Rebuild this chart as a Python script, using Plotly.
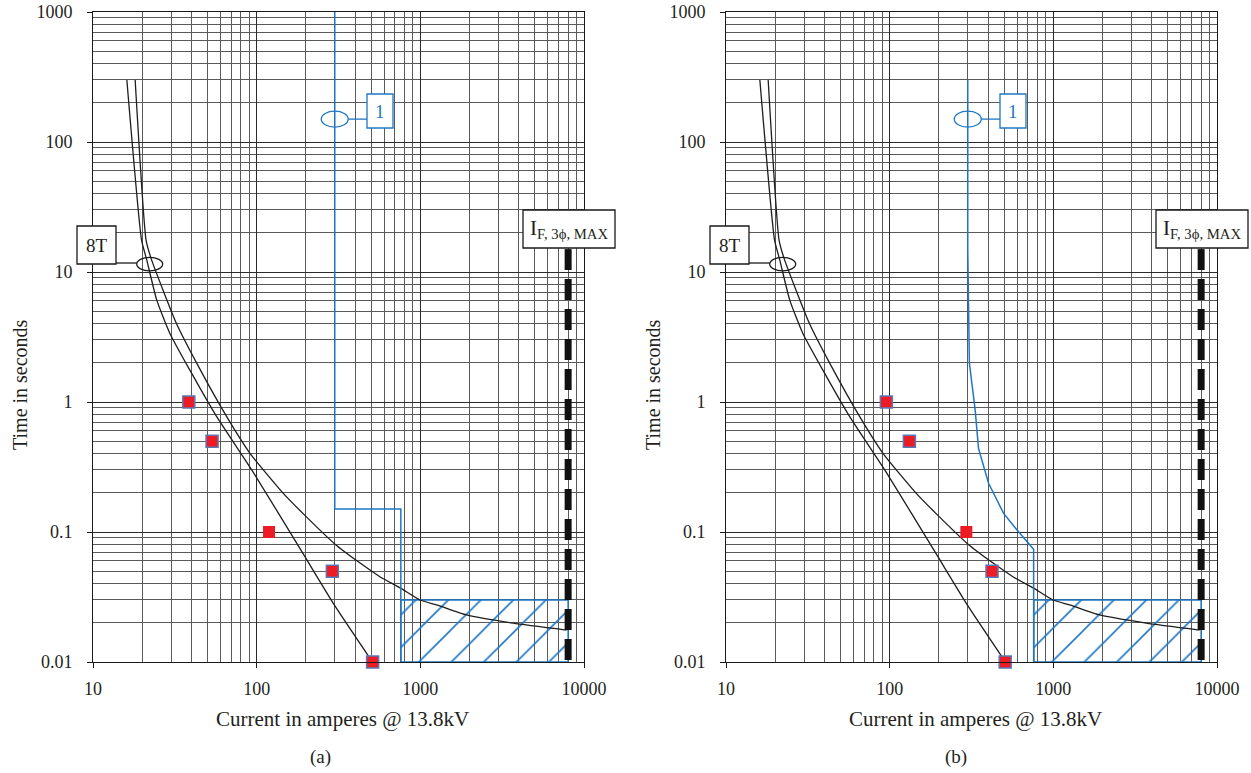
import math
import plotly.graph_objects as go

# ---------------- data ----------------
x_tick_vals = [10, 100, 1000, 10000]
x_tick_text = ["10", "100", "1000", "10000"]
y_tick_vals = [0.01, 0.1, 1, 10, 100, 1000]
y_tick_text = ["0.01", "0.1", "1", "10", "100", "1000"]

# 8T fuse: minimum melting curve
fuse_min_I = [16.1, 19.8, 21.3, 24.5, 29.5, 40.1, 57.0, 96.0, 195.0, 298.0, 510.0]
fuse_min_t = [300, 17.6, 12.4, 6.1, 3.37, 1.66, 0.771, 0.284, 0.066, 0.0275, 0.01]
# 8T fuse: total clearing curve
fuse_tc_I = [18.1, 21.1, 22.8, 32.3, 43.0, 65.6, 91.0, 145.0, 195.0, 300.0,
             431.0, 566.0, 758.0, 995.0, 1271.0, 1918.0, 3694.0, 7833.0]
fuse_tc_t = [300, 17.6, 12.4, 4.03, 1.99, 0.771, 0.403, 0.199, 0.136, 0.081,
             0.0574, 0.0453, 0.037, 0.030, 0.0274, 0.023, 0.0199, 0.0176]

# Relay 1 curve, panel (a) and panel (b)
relay_a_I = [300, 300, 760, 760]
relay_a_t = [1000, 0.15, 0.15, 0.01]
relay_b_I = [300, 300, 307, 333, 349, 402, 497, 600, 758, 758]
relay_b_t = [300, 14.8, 1.99, 0.868, 0.44, 0.237, 0.139, 0.1035, 0.0736, 0.01]

# hatched zone
zone_I = [760, 8000]
zone_t = [0.01, 0.03]

# maximum three-phase fault current
fault_I = 8000
fault_t = [15, 0.01]

# operating points
pts_t = [1, 0.5, 0.1, 0.05, 0.01]
pts_a_I = [38.5, 53.4, 119, 290, 511]
pts_b_I = [95.5, 132, 294, 422, 508]
pts_border = [1.5, 1.5, 0, 1.5, 1.5]

# ---------------- layout constants ----------------
W, H = 1251, 773
PW = 491
TOP, BOT = 12, 662
PH = BOT - TOP
LEFTS = [93, 726]
FONT = "Liberation Serif"
TXT = "#231f20"
BLUE = "#1f77c4"
RED = "#ed1c24"


def X(px):
    return px / W


def Y(py):
    return 1 - py / H


def dx(left, I):
    return left + (math.log10(I) - 1) / 3 * PW


def dy(t):
    return TOP + (3 - math.log10(t)) / 5 * PH


fig = go.Figure()

panels = [
    ("x", "y", relay_a_I, relay_a_t, pts_a_I),
    ("x2", "y2", relay_b_I, relay_b_t, pts_b_I),
]

for xa, ya, rI, rt, pI in panels:
    # hatched zone
    zx = [zone_I[0], zone_I[1], zone_I[1], zone_I[0], zone_I[0]]
    zy = [zone_t[0], zone_t[0], zone_t[1], zone_t[1], zone_t[0]]
    fig.add_trace(go.Scatter(
        x=zx, y=zy, xaxis=xa, yaxis=ya, mode="lines", fill="toself",
        fillcolor="rgba(255,255,255,0)",
        fillpattern=dict(shape="/", size=23, solidity=0.07, fgcolor=BLUE,
                         fgopacity=1, bgcolor="rgba(255,255,255,0)",
                         fillmode="overlay"),
        line=dict(color=BLUE, width=1.5), showlegend=False, hoverinfo="skip"))
    # fuse curves
    fig.add_trace(go.Scatter(
        x=fuse_min_I, y=fuse_min_t, xaxis=xa, yaxis=ya, mode="lines",
        line=dict(color="#1e1e1e", width=1.3, shape="spline", smoothing=0.5),
        showlegend=False))
    fig.add_trace(go.Scatter(
        x=fuse_tc_I, y=fuse_tc_t, xaxis=xa, yaxis=ya, mode="lines",
        line=dict(color="#1e1e1e", width=1.3, shape="spline", smoothing=0.5),
        showlegend=False))
    # relay curve
    fig.add_trace(go.Scatter(
        x=rI, y=rt, xaxis=xa, yaxis=ya, mode="lines",
        line=dict(color=BLUE, width=1.5), showlegend=False))
    # fault current line
    fig.add_trace(go.Scatter(
        x=[fault_I, fault_I], y=fault_t, xaxis=xa, yaxis=ya, mode="lines",
        line=dict(color="#111111", width=7, dash="21px,9px"),
        showlegend=False, cliponaxis=False))
    # points
    fig.add_trace(go.Scatter(
        x=pI, y=pts_t, xaxis=xa, yaxis=ya, mode="markers",
        marker=dict(symbol="square", size=12, color=RED,
                    line=dict(color="#5a78b8", width=pts_border)),
        showlegend=False, cliponaxis=False))

minor_x = [k * 10 ** d for d in range(1, 4) for k in range(2, 10)]
minor_y = [k * 10.0 ** d for d in range(-2, 3) for k in range(2, 10)]

axis_common = dict(
    type="log", showline=True, linecolor="#1a1a1a", linewidth=1, mirror=True,
    showgrid=True, gridcolor="#2a2a2a", gridwidth=1, zeroline=False,
    ticks="outside", ticklen=5, tickcolor="#1a1a1a", automargin=False,
    ticklabeloverflow="allow",
    tickfont=dict(family=FONT, size=18, color=TXT),
)

layout = dict(
    width=W, height=H, margin=dict(l=0, r=0, t=0, b=0, pad=0, autoexpand=False),
    paper_bgcolor="white", plot_bgcolor="white",
    font=dict(family=FONT, color=TXT),
)

for i, left in enumerate(LEFTS):
    sfx = "" if i == 0 else "2"
    layout["xaxis" + sfx] = dict(
        axis_common, domain=[X(left), X(left + PW)], range=[1, 4],
        anchor="y" + sfx, tickmode="array", tickvals=x_tick_vals,
        ticktext=x_tick_text, ticklabelstandoff=5,
        minor=dict(tickmode="array", tickvals=minor_x, showgrid=True,
                   gridcolor="#5a5a5a", gridwidth=1, ticks=""))
    layout["yaxis" + sfx] = dict(
        axis_common, domain=[Y(BOT), Y(TOP)], range=[-2, 3],
        anchor="x" + sfx, tickmode="array", tickvals=y_tick_vals,
        ticktext=y_tick_text, ticklabelstandoff=11,
        minor=dict(tickmode="array", tickvals=minor_y, showgrid=True,
                   gridcolor="#5a5a5a", gridwidth=1, ticks=""))

fig.update_layout(**layout)

shapes = []
annotations = []


def rect(x0, y0, x1, y1, color):
    return dict(type="rect", xref="paper", yref="paper", x0=X(x0), x1=X(x1),
                y0=Y(y1), y1=Y(y0), line=dict(color=color, width=1.3),
                fillcolor="white", layer="above")


def ell(cx, cy, w, h, color):
    return dict(type="circle", xref="paper", yref="paper",
                x0=X(cx - w / 2), x1=X(cx + w / 2), y0=Y(cy + h / 2), y1=Y(cy - h / 2),
                line=dict(color=color, width=1.3), fillcolor="rgba(0,0,0,0)", layer="above")


def seg(x0, y0, x1, y1, color):
    return dict(type="line", xref="paper", yref="paper", x0=X(x0), x1=X(x1),
                y0=Y(y0), y1=Y(y1), line=dict(color=color, width=1.3), layer="above")


def text(x, y, s, size, color=TXT, angle=0):
    return dict(xref="paper", yref="paper", x=X(x), y=Y(y), text=s, showarrow=False,
                xanchor="center", yanchor="middle", textangle=angle,
                font=dict(family=FONT, size=size, color=color))


captions = ["(a)", "(b)"]
caption_x = [320, 956]
for i, left in enumerate(LEFTS):
    # 8T label
    ecx, ecy = dx(left, 22.2), dy(11.5)
    shapes.append(rect(left - 16, 226, left + 23, 264, "#1a1a1a"))
    shapes.append(seg(left + 23, 263, ecx - 13, 263, "#1a1a1a"))
    shapes.append(ell(ecx, ecy, 26, 13.5, "#1a1a1a"))
    annotations.append(text(left + 3.5, 245.5, "8T", 19))
    # relay 1 label
    rcx, rcy = dx(left, 300), dy(150)
    shapes.append(rect(left + 274, 94, left + 300, 128, BLUE))
    shapes.append(seg(rcx + 13.5, rcy, left + 274, rcy, BLUE))
    shapes.append(ell(rcx, rcy, 27, 16, BLUE))
    annotations.append(text(left + 287, 112, "1", 19, BLUE))
    # fault label
    shapes.append(rect(left + 430, 210, left + 522, 248, "#1a1a1a"))
    annotations.append(text(left + 476, 229, "I<sub>F, 3ϕ, MAX</sub>", 21))
    # axis titles
    annotations.append(text(left + 249, 719, "Current in amperes @ 13.8kV", 21))
    annotations.append(text(left - 73, 385, "Time in seconds", 20, angle=-90))
    annotations.append(text(caption_x[i], 757, captions[i], 19))

fig.update_layout(shapes=shapes, annotations=annotations)

# remove the default page margin so the 1251x773 figure fills the window exactly
fig.write_html("out.html",
               config={"displayModeBar": False},
               post_script="document.body.style.margin='0';"
                           "document.body.style.overflow='hidden';")
